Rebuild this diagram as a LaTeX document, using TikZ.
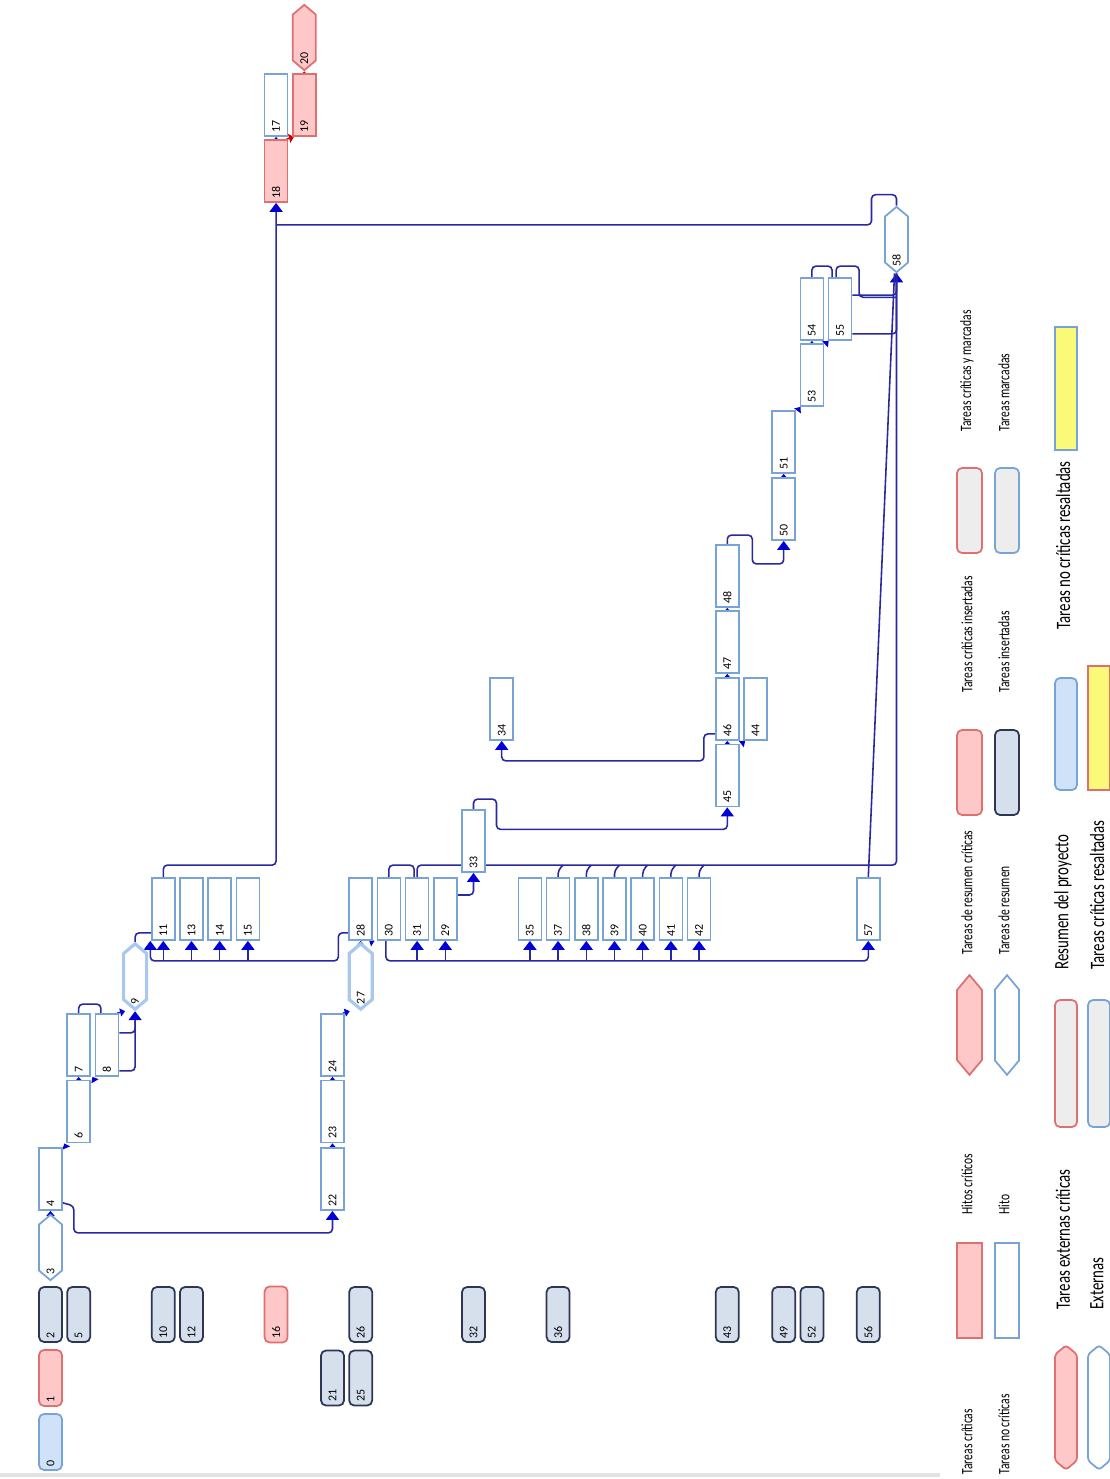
\documentclass[tikz,border=0pt]{standalone}
\usepackage{fontspec}
\setmainfont{Carlito}
\usetikzlibrary{arrows.meta,shapes.symbols}
\pgfdeclarelayer{fondo}
\pgfsetlayers{fondo,main}

\definecolor{bordeazul}{RGB}{120,163,215}
\definecolor{bordesel}{RGB}{168,200,238}
\definecolor{bordero}{RGB}{222,112,112}
\definecolor{rosa}{RGB}{255,200,200}
\definecolor{marino}{RGB}{45,55,85}
\definecolor{grisazul}{RGB}{214,224,236}
\definecolor{celeste}{RGB}{208,226,248}
\definecolor{gris}{RGB}{237,237,237}
\definecolor{amarillo}{RGB}{250,250,120}
\definecolor{azulenlace}{RGB}{40,40,160}
\definecolor{puntaazul}{RGB}{0,0,215}
\definecolor{lineagris}{RGB}{226,226,226}

\tikzset{
  caja/.style={draw=bordeazul, line width=0.5pt, fill=white, minimum width=2.3mm, minimum height=6.2mm, inner sep=0pt},
  critica/.style={caja, draw=bordero, fill=rosa},
  resumen/.style={caja, draw=marino, fill=grisazul, rounded corners=0.5mm, minimum height=5.5mm},
  resumencrit/.style={caja, draw=bordero, fill=rosa, rounded corners=0.5mm, minimum height=5.6mm},
  proyecto/.style={caja, fill=celeste, rounded corners=0.5mm, minimum height=5.6mm},
  hito/.style={caja, signal, signal to=north and south, signal pointer angle=100, minimum height=4.6mm},
  hitosel/.style={hito, draw=bordesel, line width=0.9pt},
  hitocrit/.style={hito, draw=bordero, fill=rosa},
  num/.style={rotate=90, anchor=west, inner sep=0pt, font=\fontsize{3.4}{3.8}\selectfont},
  enlace/.style={draw=azulenlace, line width=0.45pt, rounded corners=0.4mm},
  flecha/.style={enlace, -{Triangle[width=1.3mm,length=0.9mm,color=puntaazul]}},
  flechita/.style={enlace, -{Triangle[width=0.8mm,length=0.5mm,color=puntaazul]}},
  flecharoja/.style={draw=red!80!black, line width=0.45pt, -{Triangle[width=0.9mm,length=0.5mm]}},
  leyenda/.style={rotate=90, anchor=west, inner sep=0pt, font=\fontsize{4.5}{5}\selectfont},
  leyendag/.style={leyenda, font=\fontsize{5.8}{6.5}\selectfont}
}

\newcommand{\tarea}[4][caja]{\node[#1] (t#2) at (#3,#4) {};
  \node[num] (n#2) at ([yshift=0.4mm]t#2.south) {#2};}
\newcommand{\hito}[4][hito]{\node[#1] (t#2) at (#3,#4) {};
  \node[num] (n#2) at ([yshift=0.65mm]t#2.south) {#2};}
\newcommand{\ley}[1]{\scalebox{0.73}[1]{#1}}

\begin{document}
\begin{tikzpicture}[x=0.1mm,y=-0.1mm]
\useasboundingbox (0,0) rectangle (1110,1479);

% resumenes
\tarea[proyecto]{0}{50.5}{1442}
\tarea[resumencrit]{1}{50.5}{1378}
\tarea[resumen]{2}{50.5}{1314.5}
\tarea[resumen]{5}{78.7}{1314.5}
\tarea[resumen]{10}{163.3}{1314.5}
\tarea[resumen]{12}{191.5}{1314.5}
\tarea[resumencrit]{16}{276.1}{1314.5}
\tarea[resumen]{21}{332.5}{1378}
\tarea[resumen]{25}{360.7}{1378}
\tarea[resumen]{26}{360.7}{1314.5}
\tarea[resumen]{32}{473.5}{1314.5}
\tarea[resumen]{36}{558.1}{1314.5}
\tarea[resumen]{43}{727.3}{1314.5}
\tarea[resumen]{49}{783.7}{1314.5}
\tarea[resumen]{52}{811.9}{1314.5}
\tarea[resumen]{56}{868.3}{1314.5}

% tareas
\hito{3}{50.5}{1247.5}
\tarea{4}{50.5}{1179}
\tarea{6}{78.7}{1111.5}
\tarea{7}{78.7}{1045}
\tarea{8}{106.9}{1045}
\hito[hitosel]{9}{135.1}{976.5}
\tarea{11}{163.3}{909}
\tarea{13}{191.5}{909}
\tarea{14}{219.7}{909}
\tarea{15}{247.9}{909}
\tarea[critica]{18}{276.1}{171}
\tarea{17}{276.1}{105}
\tarea[critica]{19}{304.3}{105}
\hito[hitocrit]{20}{304.3}{37.5}
\tarea{22}{332.5}{1179}
\tarea{23}{332.5}{1111.5}
\tarea{24}{332.5}{1045}
\hito[hitosel]{27}{360.7}{976.5}
\tarea{28}{360.7}{909}
\tarea{30}{388.9}{909}
\tarea{31}{417.1}{909}
\tarea{29}{445.3}{909}
\tarea{33}{473.5}{841}
\tarea{34}{501.7}{709}
\foreach \n/\x in {35/529.9,37/558.1,38/586.3,39/614.5,40/642.7,41/670.9,42/699.1}
  {\tarea{\n}{\x}{909}}
\tarea{45}{727.3}{775.5}
\tarea{46}{727.3}{709}
\tarea{44}{755.5}{709}
\tarea{47}{727.3}{642}
\tarea{48}{727.3}{576}
\tarea{50}{783.7}{509}
\tarea{51}{783.7}{442}
\tarea{53}{811.9}{375}
\tarea{54}{811.9}{309}
\tarea{55}{840.1}{309}
\tarea{57}{868.3}{909}
\hito{58}{896.5}{239.5}

\begin{pgfonlayer}{fondo}
% 3 -> 4 -> 6, 22
\draw[flechita] (t3.north) -- (t4.south);
\draw[flecha] ([yshift=0.8mm]t4.south east) -- ++(11,3) |- ([yshift=-2.2mm]t22.south) -- (t22.south);
\draw[flechita] ([xshift=0.3mm]t4.north east) -- ([xshift=-0.2mm]t6.south west);
\draw[flechita] (t6.north) -- (t7.south);
\draw[flechita] ([xshift=0.3mm]t6.north east) -- ([xshift=-0.2mm]t8.south west);
\draw[enlace] (t7.north) -- ++(0,-9) -| ([xshift=-0.6mm]t8.north);
% 8 -> 9 -> 11
\draw[flecha] ([yshift=0.6mm]t8.south east) -| (t9.south);
\draw[enlace] ([yshift=4.4mm]t8.south east) -| ([yshift=-1mm]t9.south);
\draw[flechita] ([xshift=-0.2mm]t8.north east) -- ([xshift=-1mm]t9.south);
\draw[enlace] (t9.north) |- ([yshift=0.8mm]t11.south west);
% 28 -> 11, 13, 14, 15
\draw[flecha] ([yshift=0.8mm]t28.south west) -- ++(-10,0) |- ([xshift=-1.3mm,yshift=-2mm]t11.south) -- ([xshift=-1.3mm]t11.south);
\foreach \n in {11,13,14,15}
  \draw[flecha] ([yshift=-2mm]t\n.south) -- (t\n.south);
% 11, 58 -> 18 -> 17, 19 -> 20
\draw[flecha] (t11.north) -- ++(0,-12) -| (t18.south);
\draw[enlace] (t58.north) -- ++(0,-11) -- ++(-25,0) |- ([yshift=-2.2mm]t18.south);
\draw[flechita] (t18.north) -- (t17.south);
\draw[flecharoja] ([xshift=-0.2mm]t18.north east) -- ([xshift=0.2mm]t19.south west);
\draw[flecharoja] (t19.north) -- (t20.south);
% 22 -> 23 -> 24 -> 27 -> 28, 30
\draw[flechita] (t22.north) -- (t23.south);
\draw[flechita] (t23.north) -- (t24.south);
\draw[flechita] ([xshift=-0.2mm]t24.north east) -- ([xshift=-1.1mm]t27.south);
\draw[flechita] (t27.north) -- (t28.south);
\draw[flechita] ([xshift=1.1mm]t27.north) -- ([xshift=-0.2mm]t30.south west);
% 30 -> 31, 29, 35 ... 42, 57
\draw[flecha] ([xshift=-0.3mm]t30.south) |- ([yshift=-2mm]t57.south) -- (t57.south);
\foreach \n in {31,29,35,37,38,39,40,41,42}
  \draw[flecha] ([yshift=-2mm]t\n.south) -- (t\n.south);
% 30, 31, 37 ... 42, 57 -> 58
\draw[enlace] (t30.north) -- ++(0,-12) -| ([xshift=-0.3mm]t31.north);
\draw[flecha] (t31.north) -- ++(0,-12) -| (t58.south);
\foreach \n in {37,...,42}
  \draw[enlace] (t\n.north) -- ++(0,-7) -- ++(5,-5);
\draw[enlace] (t57.north) -- ([xshift=-0.2mm]t58.south);
% 29 -> 33 -> 45
\draw[flecha] ([yshift=1.4mm]t29.east) -| (t33.south);
\draw[flecha] (t33.north) -- ++(0,-10) -- ++(23,0) |- ([yshift=-2.2mm]t45.south) -- (t45.south);
% 45 -> 46, 44 ; 46 -> 47 -> 48 ; 46 -> 34
\draw[flechita] (t45.north) -- (t46.south);
\draw[flechita] ([xshift=0.2mm]t45.north east) -- ([xshift=0.2mm]t44.south west);
\draw[flechita] (t46.north) -- (t47.south);
\draw[flechita] (t47.north) -- (t48.south);
\draw[flecha] ([yshift=0.7mm]t46.south west) -- ++(-11,0) |- ([yshift=-2mm]t34.south) -- (t34.south);
% 48 -> 50 -> 51 -> 53 -> 54, 55
\draw[flecha] (t48.north) -- ++(0,-9) -- ++(25,0) |- ([yshift=-2.3mm]t50.south) -- (t50.south);
\draw[flechita] (t50.north) -- (t51.south);
\draw[flechita] ([xshift=0.2mm]t51.north east) -- ([xshift=0.1mm]t53.south west);
\draw[flechita] (t53.north) -- (t54.south);
\draw[flechita] ([xshift=0.2mm]t53.north east) -- ([xshift=0.1mm]t55.south west);
% 54, 55 -> 58
\draw[enlace] (t54.north) -- ++(0,-11) -| ([xshift=-0.8mm]t55.north);
\draw[enlace] ([xshift=-0.4mm]t55.north) -- ++(0,-11) -- ++(23,0) |- ([yshift=-2.4mm]t58.south);
\draw[enlace] ([yshift=-1.8mm]t55.north east) -| (t58.south);
\draw[enlace] ([yshift=0.7mm]t55.south east) -| (t58.south);
\end{pgfonlayer}

\draw[lineagris, line width=0.35mm] (0,1475) -- (940,1475);

% leyenda
\node[critica, minimum width=2.5mm, minimum height=9.5mm] (l1) at (969.5,1290.5) {};
\node[hitocrit, minimum width=2.5mm, minimum height=7mm, signal pointer angle=80] (l2) at (969.5,1025) {};
\node[resumencrit, minimum width=2.5mm, minimum height=8.5mm] (l3) at (969.5,772.5) {};
\node[caja, draw=bordero, fill=gris, rounded corners=0.5mm, minimum width=2.5mm, minimum height=8.5mm] (l4) at (969.5,510.5) {};
\node[caja, minimum width=2.4mm, minimum height=9.5mm] (l5) at (1007,1290.5) {};
\node[hito, minimum width=2.4mm, minimum height=7.1mm, signal pointer angle=80] (l6) at (1007,1025) {};
\node[resumen, minimum width=2.4mm, minimum height=8.5mm] (l7) at (1007,772.5) {};
\node[caja, fill=gris, rounded corners=0.5mm, minimum width=2.4mm, minimum height=8.5mm] (l8) at (1007,510.5) {};
\node[hitocrit, rounded corners=0.3mm, minimum width=2.2mm, minimum height=10.6mm, signal pointer angle=100] (l9) at (1066,1407.5) {};
\node[caja, draw=bordero, fill=gris, rounded corners=0.5mm, minimum width=2.2mm, minimum height=12.7mm] (l10) at (1066,1063.5) {};
\node[proyecto, minimum width=2.2mm, minimum height=11.2mm] (l11) at (1066,734) {};
\node[caja, fill=amarillo, minimum width=2.2mm, minimum height=12.3mm] (l12) at (1066,388.5) {};
\node[hito, rounded corners=0.3mm, minimum width=2.2mm, minimum height=10.6mm, signal pointer angle=100] (l13) at (1099,1407.5) {};
\node[caja, fill=gris, rounded corners=0.5mm, minimum width=2.2mm, minimum height=12.7mm] (l14) at (1099,1063.5) {};
\node[caja, draw=bordero, fill=amarillo, minimum width=2.2mm, minimum height=12.4mm] (l15) at (1099,728) {};

\node[leyenda] (e1) at (967,1475) {\ley{Tareas críticas}};
\node[leyenda] (e2) at (1004,1475) {\ley{Tareas no críticas}};
\node[leyenda] (e3) at (967,1215) {\ley{Hitos críticos}};
\node[leyenda] (e4) at (1004,1215) {\ley{Hito}};
\node[leyenda] (e5) at (967,955) {\ley{Tareas de resumen críticas}};
\node[leyenda] (e6) at (1004,955) {\ley{Tareas de resumen}};
\node[leyenda] (e7) at (967,693) {\ley{Tareas críticas insertadas}};
\node[leyenda] (e8) at (1004,693) {\ley{Tareas insertadas}};
\node[leyenda] (e9) at (967,432) {\ley{Tareas críticas y marcadas}};
\node[leyenda] (e10) at (1004,432) {\ley{Tareas marcadas}};
\node[leyendag] (e11) at (1063,1310) {\ley{Tareas externas críticas}};
\node[leyendag] (e12) at (1097,1310) {\ley{Externas}};
\node[leyendag] (e13) at (1063,970) {\ley{Resumen del proyecto}};
\node[leyendag] (e14) at (1097,970) {\ley{Tareas críticas resaltadas}};
\node[leyendag] (e15) at (1063,630) {\ley{Tareas no críticas resaltadas}};
\end{tikzpicture}
\end{document}
